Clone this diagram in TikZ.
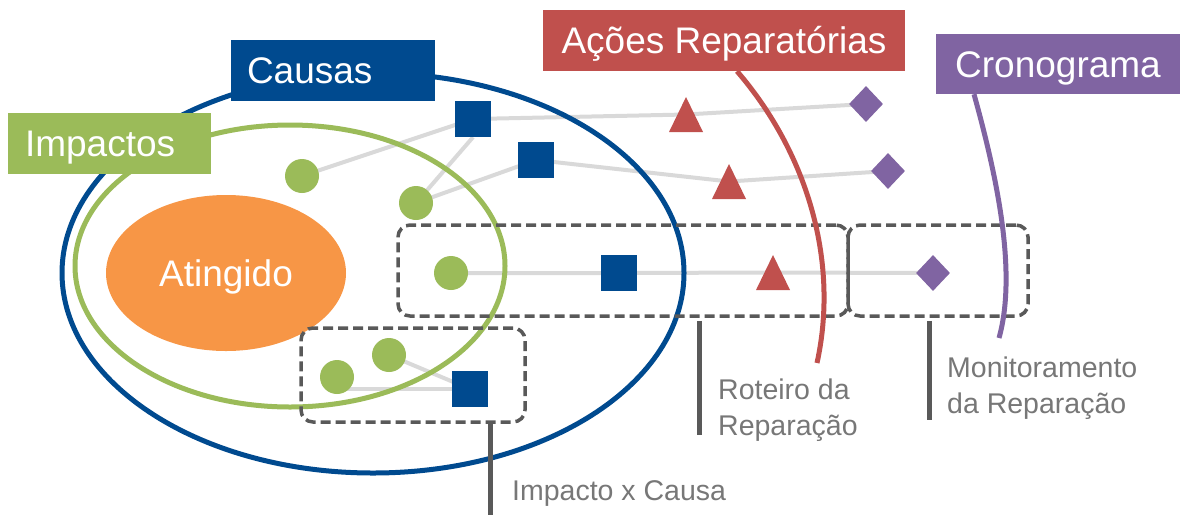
\documentclass[tikz,border=0pt]{standalone}
\usepackage{fontspec}
\setmainfont{Liberation Sans}
\usetikzlibrary{shapes.geometric,backgrounds}
\definecolor{cblue}{HTML}{004A8F}
\definecolor{cgreen}{HTML}{9BBB59}
\definecolor{cred}{HTML}{C0504D}
\definecolor{cpurple}{HTML}{8064A2}
\definecolor{corange}{HTML}{F79646}
\definecolor{clink}{HTML}{D9D9D9}
\definecolor{cdash}{HTML}{595959}
\definecolor{clabel}{HTML}{777777}
\begin{document}
\begin{tikzpicture}[x=1pt,y=-1pt,
  sq/.style={rectangle, fill=cblue, minimum size=36pt, inner sep=0pt},
  dot/.style={circle, fill=cgreen, minimum size=34pt, inner sep=0pt},
  tri/.style={rectangle, minimum width=34pt, minimum height=35pt, inner sep=0pt,
    path picture={\fill[cred] (path picture bounding box.south west) -- (path picture bounding box.south east) -- (path picture bounding box.north) -- cycle;}},
  dia/.style={diamond, fill=cpurple, minimum width=34pt, minimum height=36pt, inner sep=0pt},
  link/.style={draw=clink, line width=4pt},
  tag/.style={rectangle, inner sep=0pt, minimum height=61pt, text=white,
    font=\fontsize{37}{40}\selectfont, text height=26.5pt, text depth=0pt},
  dashbox/.style={draw=cdash, line width=3.5pt, dash pattern=on 10pt off 5pt, rounded corners=12pt, inner sep=0pt},
  callout/.style={draw=cdash, line width=5pt},
  note/.style={text=clabel, font=\fontsize{28.5}{36}\selectfont, inner sep=0pt, align=left}
]
\useasboundingbox (0,0) rectangle (1182,515);

% big ellipses
\draw[cblue, line width=5pt] (373,273) ellipse [x radius=311pt, y radius=200pt];
\draw[cgreen, line width=5pt] (290,266) ellipse [x radius=215pt, y radius=141pt];
\node[ellipse, fill=corange, minimum width=240pt, minimum height=156pt, inner sep=0pt,
      text=white, font=\fontsize{37}{40}\selectfont, text height=26.5pt, text depth=0pt]
      (ating) at (226,273) {Atingido};

% dashed groups
\node[dashbox, minimum width=224pt, minimum height=94pt] (boxA) at (413,375) {};
\node[dashbox, minimum width=450pt, minimum height=91pt] (boxB) at (623,270.5) {};
\node[dashbox, minimum width=180pt, minimum height=91pt] (boxC) at (938,270.5) {};

% title tags
\node[tag, fill=cblue, inner xsep=16pt, text width=172pt, align=left] (causas) at (333,70.5) {Causas};
\node[tag, fill=cgreen, inner xsep=17pt, text width=169pt, align=left] (impactos) at (109.5,143.5) {Impactos};
\node[tag, fill=cred, minimum width=362pt] (acoes) at (724,40.5) {Ações Reparatórias};
\node[tag, fill=cpurple, minimum width=244pt, minimum height=60pt] (crono) at (1058,64) {Cronograma};

% curved leaders
\coordinate (redEnd) at (817,363);
\coordinate (purEnd) at (999,338);
\draw[cred, line width=5pt] (acoes.south -| 737,0) .. controls (805,150) and (840,258) .. (redEnd);
\draw[cpurple, line width=5pt] (crono.south -| 974,0) .. controls (995,170) and (1018,270) .. (purEnd);

% items
\node[sq] (s1) at (473,119) {};
\node[sq] (s2) at (536,160) {};
\node[sq] (s3) at (619,273) {};
\node[sq] (s4) at (470,389) {};
\node[dot] (c1) at (302,176) {};
\node[dot] (c2) at (416,203) {};
\node[dot] (c3) at (451,273) {};
\node[dot] (c4) at (389,355) {};
\node[dot] (c5) at (337,377) {};
\node[tri] (t1) at (686,114.5) {};
\node[tri] (t2) at (729,181.5) {};
\node[tri] (t3) at (773,272.5) {};
\node[dia] (d1) at (866,104) {};
\node[dia] (d2) at (888,171) {};
\node[dia] (d3) at (933,273) {};

% connectors (behind)
\begin{scope}[on background layer]
\draw[link] (c1.center) -- (s1.center);
\draw[link] (s1.center) -- (t1.center) -- (d1.center);
\draw[link] (s1.south) -- (c2.center);
\draw[link] (c2.center) -- (s2.center);
\draw[link] (s2.center) -- (t2.center) -- (d2.center);
\draw[link] (c3.center) -- (s3.center) -- (t3.center) -- (d3.center);
\draw[link] (c5.center |- s4.center) -- (s4.center);
\draw[link] (c4.center) -- (s4.center);
\end{scope}

% callouts
\coordinate (endA) at (490,515);
\coordinate (endB) at (699,435);
\coordinate (endC) at (929,420);
\draw[callout] (boxA.south -| endA) -- (endA);
\draw[callout] ([yshift=-3pt]boxB.south -| endB) -- (endB);
\draw[callout] ([yshift=-3pt]boxC.south -| endC) -- (endC);
\node[note, anchor=base west] (lblA) at (512,500) {Impacto x Causa};
\node[note, anchor=north west] (lblB) at (718,379) {Roteiro da\\Reparação};
\node[note, anchor=north west] (lblC) at (947,356.5) {Monitoramento\\da Reparação};
\end{tikzpicture}
\end{document}
